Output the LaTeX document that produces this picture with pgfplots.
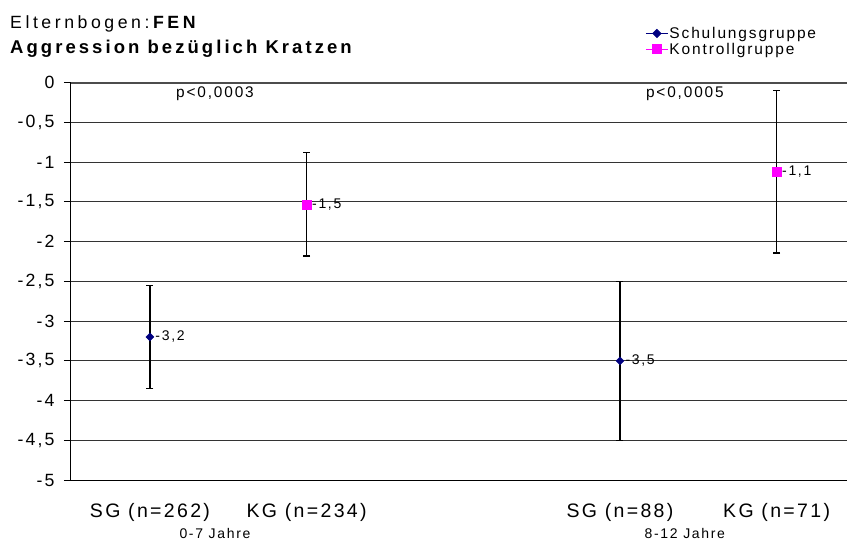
\documentclass[border=0pt]{standalone}
\usepackage{fontspec}
\setmainfont{Liberation Sans}[LetterSpace=12]
\newfontfamily\titlefont{Liberation Sans}[LetterSpace=16.5]
\newfontfamily\subfont{Liberation Sans}[LetterSpace=20]
\usepackage{pgfplots}
\pgfplotsset{compat=1.18}
\usepackage{pgfplotstable}

\definecolor{sgblue}{RGB}{0,0,128}
\definecolor{kgmag}{RGB}{255,0,255}

% mean, half width of the bar, label
\pgfplotstableread{
x y e lab
0 -3.2 0.65 -3,2
3 -3.5 1.0 -3,5
}\sgdata
\pgfplotstableread{
x y e lab
1 -1.53 0.65 -1,5
4 -1.12 1.02 -1,1
}\kgdata

\begin{document}
\begin{tikzpicture}[x=1pt,y=1pt]
\useasboundingbox (0,0) rectangle (847,-542);

% title
\node[anchor=base west, inner sep=0pt, font=\fontsize{17.7}{18}\selectfont\subfont] at (10,-28) {Elternbogen:\textbf{FEN}};
\node[anchor=base west, inner sep=0pt, font=\fontsize{18.5}{19}\selectfont\titlefont] at (10,-53) {\textbf{Aggression bezüglich Kratzen}};

\begin{axis}[
    at={(71pt,-480pt)}, anchor=south west,
    scale only axis, width=776pt, height=397.3pt,
    xmin=-0.504, xmax=4.449,
    ymin=-5, ymax=0,
    clip=false,
    axis x line*=bottom, axis y line*=left,
    axis line style={black, line width=1pt},
    xtick={0,1,3,4},
    xticklabels={SG (n=262), KG (n=234), SG (n=88), KG (n=71)},
    xticklabel style={font=\fontsize{19.5}{20}\selectfont, yshift=-13pt},
    major x tick style={draw=none},
    ytick={-5,-4.5,-4,-3.5,-3,-2.5,-2,-1.5,-1,-0.5,0},
    yticklabel style={font=\fontsize{17.7}{18}\selectfont, xshift=-6pt,
        /pgf/number format/.cd, use comma, assume math mode=true},
    tick align=outside,
    major tick length=7pt,
    major y tick style={black, line width=1pt},
    ymajorgrids,
    major grid style={black!80, line width=0.9pt},
    legend style={draw=none, fill=none, at={(0.74,1.143)}, anchor=north west,
        inner sep=0pt, font=\fontsize{15.5}{16}\selectfont, row sep=1pt,
        nodes={inner sep=1pt, anchor=west}},
    legend image code/.code={
        \draw[#1, sharp plot, line width=1pt, mark repeat=2, mark phase=2]
            plot coordinates {(0pt,0pt) (11pt,0pt) (22pt,0pt)};},
    point meta=explicit symbolic,
    nodes near coords,
    every node near coord/.append style={anchor=west, xshift=2pt,
        font=\fontsize{14}{14}\selectfont, text=black},
    error bars/y dir=both,
    error bars/y explicit,
    error bars/error bar style={black, line width=1.5pt},
    error bars/error mark options={rotate=90, black, line width=1.5pt, mark size=3.5pt},
]

% top line of the plot area
\draw[black!70, line width=2pt] (axis cs:-0.504,0) -- (axis cs:4.449,0);

\addplot[only marks, mark=diamond*, color=sgblue,
    mark options={xscale=1.33, fill=sgblue, draw=sgblue}, mark size=4pt]
    table[x=x, y=y, y error=e, meta=lab] {\sgdata};
\addlegendentry{Schulungsgruppe}

\addplot[only marks, mark=square*, color=kgmag,
    mark options={fill=kgmag, draw=kgmag}, mark size=4.5pt]
    table[x=x, y=y, y error=e, meta=lab] {\kgdata};
\addlegendentry{Kontrollgruppe}

% p values and age groups
\node[font=\fontsize{15.4}{16}\selectfont] at (axis cs:0.415,0) [yshift=-11pt] {p<0,0003};
\node[font=\fontsize{15.4}{16}\selectfont] at (axis cs:3.414,0) [yshift=-11pt] {p<0,0005};
\node[font=\fontsize{14}{14}\selectfont] at (axis cs:0.415,-5) [yshift=-53pt] {0-7 Jahre};
\node[font=\fontsize{14}{14}\selectfont] at (axis cs:3.414,-5) [yshift=-53pt] {8-12 Jahre};

\end{axis}
\end{tikzpicture}
\end{document}
